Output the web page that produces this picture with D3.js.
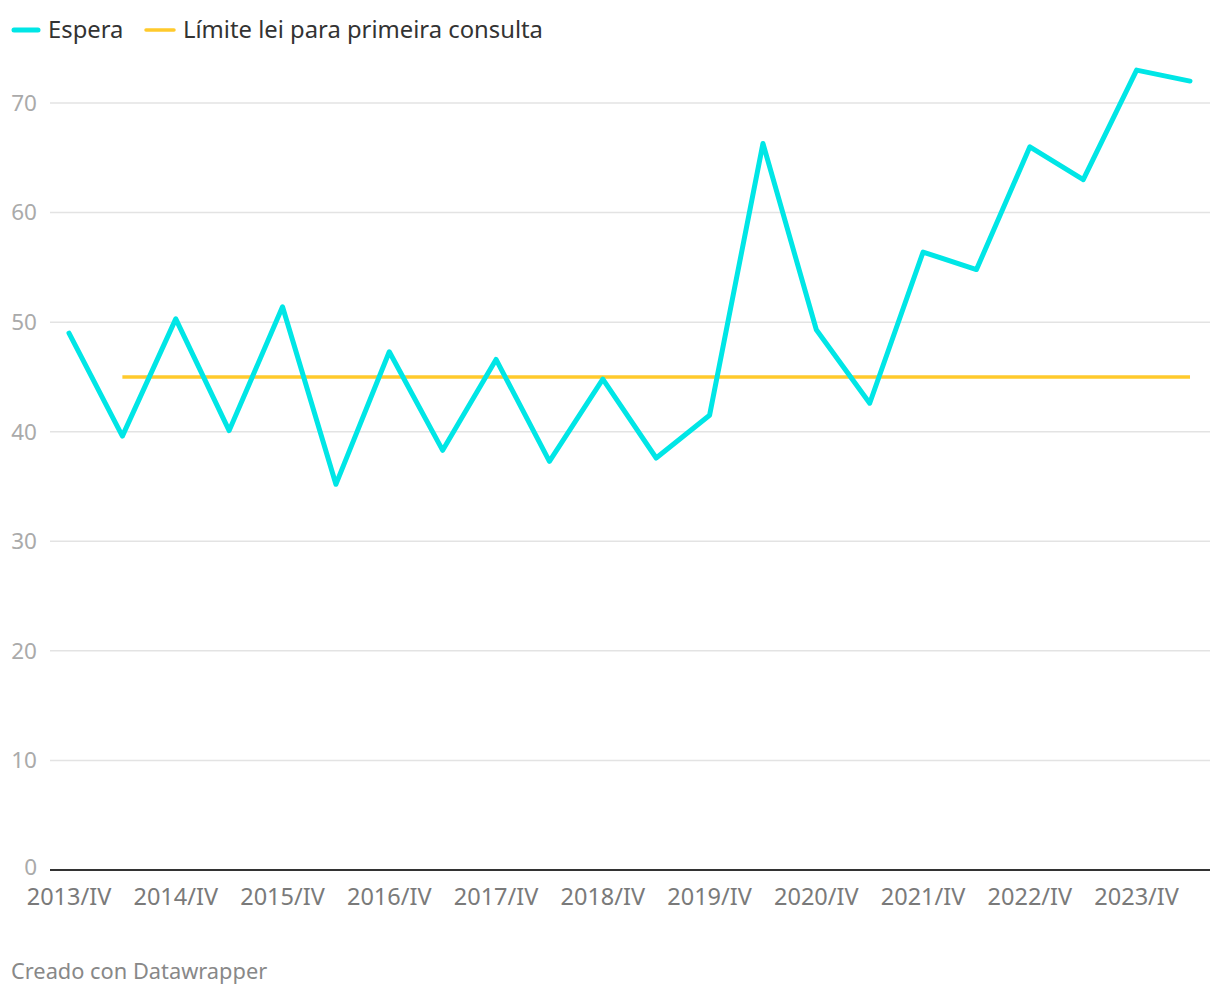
<!DOCTYPE html>
<html><head><meta charset="utf-8">
<script src="https://cdn.jsdelivr.net/npm/d3@7"></script>
<style>
body{margin:0;background:#fff;font-family:"Noto Sans","Open Sans",sans-serif;}
</style></head>
<body><svg id="c" width="1220" height="996"></svg>
<script>
const periods = ["2013/IV","2014/II","2014/IV","2015/II","2015/IV","2016/II","2016/IV","2017/II","2017/IV","2018/II","2018/IV","2019/II","2019/IV","2020/II","2020/IV","2021/II","2021/IV","2022/II","2022/IV","2023/II","2023/IV","2024/II"];
const espera = [49,39.6,50.3,40.1,51.4,35.2,47.3,38.3,46.6,37.3,44.8,37.6,41.5,66.3,49.3,42.6,56.4,54.8,66,63,73,72];
const limitePeriods = periods.slice(1);
const limiteValue = 45;
const yTicks = [0,10,20,30,40,50,60,70];
const xTickLabels = ["2013/IV","2014/IV","2015/IV","2016/IV","2017/IV","2018/IV","2019/IV","2020/IV","2021/IV","2022/IV","2023/IV"];

const svg = d3.select("#c");
const x = d3.scalePoint().domain(periods).range([69,1190]);
const y = d3.scaleLinear().domain([0,70]).range([870,103]);

const grid = svg.append("g");
yTicks.forEach(t=>{
  if(t!==0) grid.append("line").attr("x1",50).attr("x2",1210).attr("y1",y(t)).attr("y2",y(t)).attr("stroke","#e3e3e3").attr("stroke-width",1.5);
  grid.append("text").attr("x",37).attr("y",y(t) - (t===0 ? 3 : 0)).attr("dy","0.35em").attr("text-anchor","end")
    .attr("font-size",22.5).attr("fill","#aaaaaa").text(t);
});

svg.append("path").datum(limitePeriods)
  .attr("d", d3.line().x(d=>x(d)).y(()=>y(limiteValue)))
  .attr("fill","none").attr("stroke","#ffca2c").attr("stroke-width",3.5);

svg.append("line").attr("x1",50).attr("x2",1210).attr("y1",y(0)).attr("y2",y(0)).attr("stroke","#333").attr("stroke-width",2);

svg.append("path").datum(espera)
  .attr("d", d3.line().x((d,i)=>x(periods[i])).y(d=>y(d)))
  .attr("fill","none").attr("stroke","#00e6e6").attr("stroke-width",5).attr("stroke-linejoin","round").attr("stroke-linecap","round");

xTickLabels.forEach(l=>{
  svg.append("text").attr("x",x(l)).attr("y",905).attr("text-anchor","middle")
    .attr("font-size",23.5).attr("fill","#7a7a7a").text(l);
});

const leg = svg.append("g");
leg.append("line").attr("x1",14).attr("x2",38).attr("y1",30).attr("y2",30).attr("stroke","#00e6e6").attr("stroke-width",5).attr("stroke-linecap","round");
leg.append("text").attr("x",48).attr("y",30).attr("dy","0.35em").attr("font-size",23.8).attr("fill","#333").text("Espera");
leg.append("line").attr("x1",146).attr("x2",174).attr("y1",30).attr("y2",30).attr("stroke","#ffca2c").attr("stroke-width",3.5).attr("stroke-linecap","round");
leg.append("text").attr("x",183).attr("y",30).attr("dy","0.35em").attr("font-size",23.8).attr("fill","#333").text("Límite lei para primeira consulta");

svg.append("text").attr("x",11).attr("y",979).attr("font-size",21.8).attr("fill","#888").text("Creado con Datawrapper");
</script></body></html>
